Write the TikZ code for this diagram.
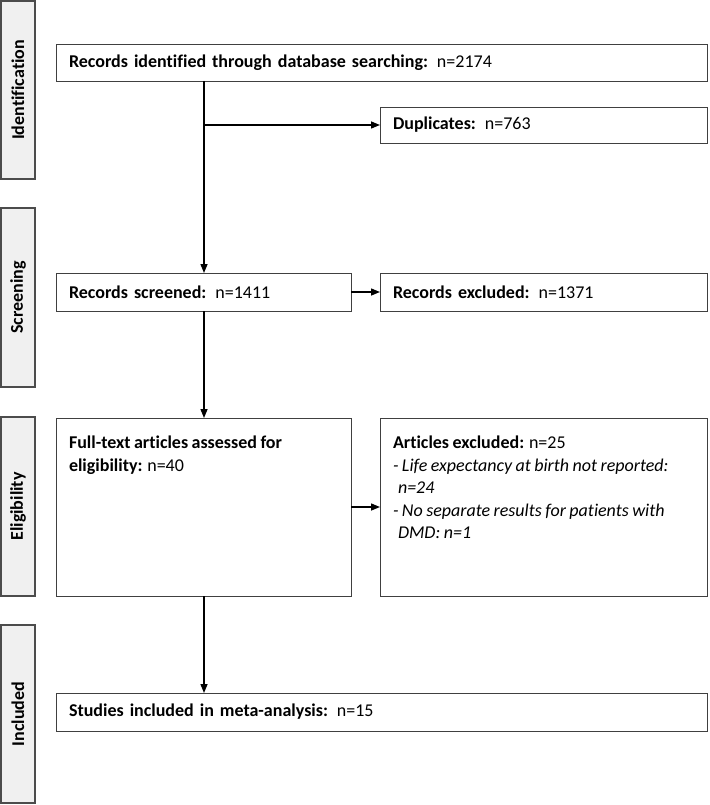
\documentclass[tikz,border=0pt]{standalone}
\usepackage{fontspec}
\setmainfont{Carlito}[Ligatures=NoCommon, WordSpace=0.85]
\usetikzlibrary{arrows.meta}
\tikzset{
  box/.style = {draw=black!75, line width=0.9pt, fill=white, anchor=north west,
                inner xsep=13pt, inner ysep=0pt, outer sep=0pt, align=left,
                minimum height=#1, font=\fontsize{18}{22.5}\selectfont},
  box/.default = 37pt,
  phase/.style = {draw=black!70, line width=1.3pt, fill=black!6, rotate=90,
                  minimum width=#1, minimum height=34pt, inner sep=0pt,
                  font=\fontsize{18}{22.5}\selectfont\bfseries},
  phase/.default = 179pt,
  arr/.style = {-{Triangle[length=9pt,width=7pt]}, line width=1.4pt}
}

\begin{document}
\begin{tikzpicture}[x=1pt, y=-1pt]
	\def \wide{625pt}  % full width box
	\def \half{269pt}  % left box
	\def \side{301pt}  % right box
	\useasboundingbox (0,0) rectangle (709,805);

	% Phases
	\node[phase=178pt] (pid)  at (18,90)    {Identification};
	\node[phase]       (pscr) at (18,297.5) {Screening};
	\node[phase]       (pel)  at (18,506.5) {Eligibility};
	\node[phase=178pt] (pinc) at (18,714)   {Included};

	% Boxes
	\node[box, text width=\wide] (ident) at (56,44)
		{\textbf{Records identified through database searching:} n=2174};
	\node[box=36pt, text width=\side] (dup) at (380,107)
		{\textbf{Duplicates:} n=763};
	\node[box=38pt, text width=\half] (scr) at (56,273)
		{\textbf{Records screened:} n=1411};
	\node[box=38pt, text width=\side] (excl) at (380,273)
		{\textbf{Records excluded:} n=1371};
	\node[box, inner ysep=18pt] (full) at (56,418)
		{\parbox[t][142pt][t]{\half}{\textbf{Full-text articles assessed for}\\
		 \textbf{eligibility:} n=40}};
	\node[box, inner ysep=18pt] (art) at (380,418)
		{\parbox[t][142pt][t]{\side}{\textbf{Articles excluded:} n=25\\
		 \textit{- Life expectancy at birth not reported:}\\
		 \hspace*{5pt}\textit{n=24}\\
		 \textit{- No separate results for patients with}\\
		 \hspace*{5pt}\textit{DMD: n=1}}};
	\node[box=38pt, text width=\wide] (stud) at (56,693)
		{\textbf{Studies included in meta-analysis:} n=15};

	% Arrows
	\coordinate (trunk) at (204,0);
	\draw[arr] (dup.west -| trunk) -- (dup.west);
	\draw[arr] (ident.south -| trunk) -- (scr.north -| trunk);
	\draw[arr] (scr.east) -- (excl.west);
	\draw[arr] (scr.south -| trunk) -- (full.north -| trunk);
	\draw[arr] (full.east) -- (art.west);
	\draw[arr] (full.south -| trunk) -- (stud.north -| trunk);
\end{tikzpicture}
\end{document}
